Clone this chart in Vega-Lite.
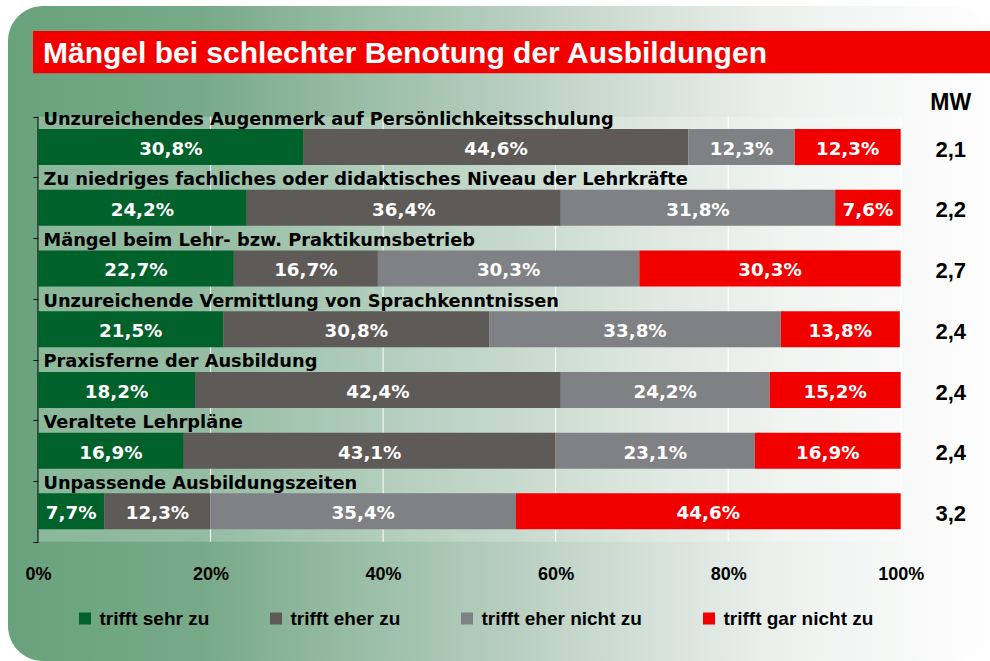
{
  "$schema": "https://vega.github.io/schema/vega-lite/v6.json",
  "width": 982,
  "height": 655,
  "autosize": {"type": "none"},
  "padding": {"left": 8, "top": 6, "right": 0, "bottom": 0},
  "background": "white",
  "datasets": {
    "bars": [
      {"c": "Unzureichendes Augenmerk auf Persönlichkeitsschulung", "i": 1, "k": "trifft sehr zu", "r": 1, "p": 0.308},
      {"c": "Unzureichendes Augenmerk auf Persönlichkeitsschulung", "i": 1, "k": "trifft eher zu", "r": 2, "p": 0.446},
      {"c": "Unzureichendes Augenmerk auf Persönlichkeitsschulung", "i": 1, "k": "trifft eher nicht zu", "r": 3, "p": 0.123},
      {"c": "Unzureichendes Augenmerk auf Persönlichkeitsschulung", "i": 1, "k": "trifft gar nicht zu", "r": 4, "p": 0.123},
      {"c": "Zu niedriges fachliches oder didaktisches Niveau der Lehrkräfte", "i": 2, "k": "trifft sehr zu", "r": 1, "p": 0.242},
      {"c": "Zu niedriges fachliches oder didaktisches Niveau der Lehrkräfte", "i": 2, "k": "trifft eher zu", "r": 2, "p": 0.364},
      {"c": "Zu niedriges fachliches oder didaktisches Niveau der Lehrkräfte", "i": 2, "k": "trifft eher nicht zu", "r": 3, "p": 0.318},
      {"c": "Zu niedriges fachliches oder didaktisches Niveau der Lehrkräfte", "i": 2, "k": "trifft gar nicht zu", "r": 4, "p": 0.076},
      {"c": "Mängel beim Lehr- bzw. Praktikumsbetrieb", "i": 3, "k": "trifft sehr zu", "r": 1, "p": 0.227},
      {"c": "Mängel beim Lehr- bzw. Praktikumsbetrieb", "i": 3, "k": "trifft eher zu", "r": 2, "p": 0.167},
      {"c": "Mängel beim Lehr- bzw. Praktikumsbetrieb", "i": 3, "k": "trifft eher nicht zu", "r": 3, "p": 0.303},
      {"c": "Mängel beim Lehr- bzw. Praktikumsbetrieb", "i": 3, "k": "trifft gar nicht zu", "r": 4, "p": 0.303},
      {"c": "Unzureichende Vermittlung von Sprachkenntnissen", "i": 4, "k": "trifft sehr zu", "r": 1, "p": 0.215},
      {"c": "Unzureichende Vermittlung von Sprachkenntnissen", "i": 4, "k": "trifft eher zu", "r": 2, "p": 0.308},
      {"c": "Unzureichende Vermittlung von Sprachkenntnissen", "i": 4, "k": "trifft eher nicht zu", "r": 3, "p": 0.338},
      {"c": "Unzureichende Vermittlung von Sprachkenntnissen", "i": 4, "k": "trifft gar nicht zu", "r": 4, "p": 0.138},
      {"c": "Praxisferne der Ausbildung", "i": 5, "k": "trifft sehr zu", "r": 1, "p": 0.182},
      {"c": "Praxisferne der Ausbildung", "i": 5, "k": "trifft eher zu", "r": 2, "p": 0.424},
      {"c": "Praxisferne der Ausbildung", "i": 5, "k": "trifft eher nicht zu", "r": 3, "p": 0.242},
      {"c": "Praxisferne der Ausbildung", "i": 5, "k": "trifft gar nicht zu", "r": 4, "p": 0.152},
      {"c": "Veraltete Lehrpläne", "i": 6, "k": "trifft sehr zu", "r": 1, "p": 0.169},
      {"c": "Veraltete Lehrpläne", "i": 6, "k": "trifft eher zu", "r": 2, "p": 0.431},
      {"c": "Veraltete Lehrpläne", "i": 6, "k": "trifft eher nicht zu", "r": 3, "p": 0.231},
      {"c": "Veraltete Lehrpläne", "i": 6, "k": "trifft gar nicht zu", "r": 4, "p": 0.169},
      {"c": "Unpassende Ausbildungszeiten", "i": 7, "k": "trifft sehr zu", "r": 1, "p": 0.077},
      {"c": "Unpassende Ausbildungszeiten", "i": 7, "k": "trifft eher zu", "r": 2, "p": 0.123},
      {"c": "Unpassende Ausbildungszeiten", "i": 7, "k": "trifft eher nicht zu", "r": 3, "p": 0.354},
      {"c": "Unpassende Ausbildungszeiten", "i": 7, "k": "trifft gar nicht zu", "r": 4, "p": 0.446}
    ],
    "cats": [
      {"c": "Unzureichendes Augenmerk auf Persönlichkeitsschulung", "i": 1, "mw": 2.1},
      {"c": "Zu niedriges fachliches oder didaktisches Niveau der Lehrkräfte", "i": 2, "mw": 2.2},
      {"c": "Mängel beim Lehr- bzw. Praktikumsbetrieb", "i": 3, "mw": 2.7},
      {"c": "Unzureichende Vermittlung von Sprachkenntnissen", "i": 4, "mw": 2.4},
      {"c": "Praxisferne der Ausbildung", "i": 5, "mw": 2.4},
      {"c": "Veraltete Lehrpläne", "i": 6, "mw": 2.4},
      {"c": "Unpassende Ausbildungszeiten", "i": 7, "mw": 3.2}
    ],
    "grid": [{"v": 0.2}, {"v": 0.4}, {"v": 0.6}, {"v": 0.8}, {"v": 1}],
    "one": [{}]
  },
  "layer": [
    {
      "data": {"name": "one"},
      "mark": {"type": "rect", "color": "#f20000"},
      "encoding": {
        "x": {"datum": -0.0058, "type": "quantitative", "scale": {"domain": [-0.03477, 1.10351], "nice": false, "zero": false, "padding": 0},
          "axis": {"values": [0, 0.2, 0.4, 0.6, 0.8, 1], "format": ".0%", "title": null, "grid": false, "domain": false, "ticks": false, "tickSize": 0, "labelPadding": 0, "labelBaseline": "alphabetic", "offset": -82, "labelFont": "Liberation Sans", "labelFontWeight": "bold", "labelFontSize": 18, "labelColor": "#000000", "labelFlush": false, "labelOverlap": false}},
        "x2": {"datum": 1.10351},
        "y": {"datum": -0.9115, "type": "quantitative", "scale": {"domain": [-1.3233, 9.465], "reverse": true, "nice": false, "zero": false, "padding": 0},
          "axis": {"values": [0.5, 1.5, 2.5, 3.5, 4.5, 5.5, 6.5, 7.5], "labels": false, "domain": false, "grid": false, "ticks": true, "tickSize": 5, "tickColor": "#000000", "tickWidth": 1, "title": null, "offset": -30}},
        "y2": {"datum": -0.2148}
      }
    },
    {
      "data": {"name": "one"},
      "mark": {"type": "text", "align": "left", "baseline": "alphabetic", "font": "Liberation Sans", "fontWeight": "bold", "fontSize": 30, "color": "white", "dx": 5},
      "encoding": {
        "x": {"datum": 0, "type": "quantitative", "scale": {"domain": [-0.03477, 1.10351], "nice": false, "zero": false, "padding": 0},
          "axis": {"values": [0, 0.2, 0.4, 0.6, 0.8, 1], "format": ".0%", "title": null, "grid": false, "domain": false, "ticks": false, "tickSize": 0, "labelPadding": 0, "labelBaseline": "alphabetic", "offset": -82, "labelFont": "Liberation Sans", "labelFontWeight": "bold", "labelFontSize": 18, "labelColor": "#000000", "labelFlush": false, "labelOverlap": false}},
        "y": {"datum": -0.3795, "type": "quantitative", "scale": {"domain": [-1.3233, 9.465], "reverse": true, "nice": false, "zero": false, "padding": 0},
          "axis": {"values": [0.5, 1.5, 2.5, 3.5, 4.5, 5.5, 6.5, 7.5], "labels": false, "domain": false, "grid": false, "ticks": true, "tickSize": 5, "tickColor": "#000000", "tickWidth": 1, "title": null, "offset": -30}},
        "text": {"value": "Mängel bei schlechter Benotung der Ausbildungen"}
      }
    },
    {
      "data": {"name": "one"},
      "mark": {"type": "rect", "color": "white", "opacity": 0.22},
      "encoding": {
        "x": {"datum": 0, "type": "quantitative", "scale": {"domain": [-0.03477, 1.10351], "nice": false, "zero": false, "padding": 0},
          "axis": {"values": [0, 0.2, 0.4, 0.6, 0.8, 1], "format": ".0%", "title": null, "grid": false, "domain": false, "ticks": false, "tickSize": 0, "labelPadding": 0, "labelBaseline": "alphabetic", "offset": -82, "labelFont": "Liberation Sans", "labelFontWeight": "bold", "labelFontSize": 18, "labelColor": "#000000", "labelFlush": false, "labelOverlap": false}},
        "x2": {"datum": 1},
        "y": {"datum": 0.5, "type": "quantitative", "scale": {"domain": [-1.3233, 9.465], "reverse": true, "nice": false, "zero": false, "padding": 0},
          "axis": {"values": [0.5, 1.5, 2.5, 3.5, 4.5, 5.5, 6.5, 7.5], "labels": false, "domain": false, "grid": false, "ticks": true, "tickSize": 5, "tickColor": "#000000", "tickWidth": 1, "title": null, "offset": -30}},
        "y2": {"datum": 7.5}
      }
    },
    {
      "data": {"name": "grid"},
      "mark": {"type": "rule", "color": "white", "strokeWidth": 1},
      "encoding": {
        "x": {"field": "v", "type": "quantitative", "scale": {"domain": [-0.03477, 1.10351], "nice": false, "zero": false, "padding": 0},
          "axis": {"values": [0, 0.2, 0.4, 0.6, 0.8, 1], "format": ".0%", "title": null, "grid": false, "domain": false, "ticks": false, "tickSize": 0, "labelPadding": 0, "labelBaseline": "alphabetic", "offset": -82, "labelFont": "Liberation Sans", "labelFontWeight": "bold", "labelFontSize": 18, "labelColor": "#000000", "labelFlush": false, "labelOverlap": false}},
        "y": {"datum": 0.5, "type": "quantitative", "scale": {"domain": [-1.3233, 9.465], "reverse": true, "nice": false, "zero": false, "padding": 0},
          "axis": {"values": [0.5, 1.5, 2.5, 3.5, 4.5, 5.5, 6.5, 7.5], "labels": false, "domain": false, "grid": false, "ticks": true, "tickSize": 5, "tickColor": "#000000", "tickWidth": 1, "title": null, "offset": -30}},
        "y2": {"datum": 7.5}
      }
    },
    {
      "data": {"name": "one"},
      "mark": {"type": "rule", "color": "#000000", "strokeWidth": 1},
      "encoding": {
        "x": {"datum": 0, "type": "quantitative", "scale": {"domain": [-0.03477, 1.10351], "nice": false, "zero": false, "padding": 0},
          "axis": {"values": [0, 0.2, 0.4, 0.6, 0.8, 1], "format": ".0%", "title": null, "grid": false, "domain": false, "ticks": false, "tickSize": 0, "labelPadding": 0, "labelBaseline": "alphabetic", "offset": -82, "labelFont": "Liberation Sans", "labelFontWeight": "bold", "labelFontSize": 18, "labelColor": "#000000", "labelFlush": false, "labelOverlap": false}},
        "y": {"datum": 0.5, "type": "quantitative", "scale": {"domain": [-1.3233, 9.465], "reverse": true, "nice": false, "zero": false, "padding": 0},
          "axis": {"values": [0.5, 1.5, 2.5, 3.5, 4.5, 5.5, 6.5, 7.5], "labels": false, "domain": false, "grid": false, "ticks": true, "tickSize": 5, "tickColor": "#000000", "tickWidth": 1, "title": null, "offset": -30}},
        "y2": {"datum": 7.5}
      }
    },
    {
      "data": {"name": "bars"},
      "mark": {"type": "bar", "size": 36, "orient": "horizontal"},
      "encoding": {
        "x": {
          "field": "p", "type": "quantitative", "stack": "zero",
          "scale": {"domain": [-0.03477, 1.10351], "nice": false, "zero": false, "padding": 0},
          "axis": {"values": [0, 0.2, 0.4, 0.6, 0.8, 1], "format": ".0%", "title": null, "grid": false, "domain": false, "ticks": false, "tickSize": 0, "labelPadding": 0, "labelBaseline": "alphabetic", "offset": -82, "labelFont": "Liberation Sans", "labelFontWeight": "bold", "labelFontSize": 18, "labelColor": "#000000", "labelFlush": false, "labelOverlap": false}
        },
        "y": {
          "field": "i", "type": "quantitative",
          "scale": {"domain": [-1.3233, 9.465], "reverse": true, "nice": false, "zero": false, "padding": 0},
          "axis": {"values": [0.5, 1.5, 2.5, 3.5, 4.5, 5.5, 6.5, 7.5], "labels": false, "domain": false, "grid": false, "ticks": true, "tickSize": 5, "tickColor": "#000000", "tickWidth": 1, "title": null, "offset": -30}
        },
        "color": {
          "field": "k", "type": "nominal",
          "scale": {"domain": ["trifft sehr zu", "trifft eher zu", "trifft eher nicht zu", "trifft gar nicht zu"], "range": ["#00612b", "#5e5a58", "#7f8184", "#f20000"]},
          "legend": {"orient": "none", "legendX": 67.5, "legendY": 603, "direction": "horizontal", "columns": 4, "title": null, "symbolType": "square", "symbolSize": 144, "symbolStrokeWidth": 0, "labelFont": "Liberation Sans", "labelFontWeight": "bold", "labelFontSize": 19, "labelColor": "#000000", "labelLimit": 400, "labelOffset": 5, "columnPadding": 57, "gridAlign": "none", "padding": 0}
        },
        "order": {"field": "r", "type": "quantitative"}
      }
    },
    {
      "data": {"name": "bars"},
      "mark": {"type": "text", "align": "center", "baseline": "alphabetic", "font": "DejaVu Sans", "fontWeight": "bold", "fontSize": 18.3, "color": "white", "dy": 8},
      "encoding": {
        "x": {"field": "p", "type": "quantitative", "stack": "zero", "bandPosition": 0.5, "scale": {"domain": [-0.03477, 1.10351], "nice": false, "zero": false, "padding": 0},
          "axis": {"values": [0, 0.2, 0.4, 0.6, 0.8, 1], "format": ".0%", "title": null, "grid": false, "domain": false, "ticks": false, "tickSize": 0, "labelPadding": 0, "labelBaseline": "alphabetic", "offset": -82, "labelFont": "Liberation Sans", "labelFontWeight": "bold", "labelFontSize": 18, "labelColor": "#000000", "labelFlush": false, "labelOverlap": false}},
        "y": {"field": "i", "type": "quantitative", "scale": {"domain": [-1.3233, 9.465], "reverse": true, "nice": false, "zero": false, "padding": 0},
          "axis": {"values": [0.5, 1.5, 2.5, 3.5, 4.5, 5.5, 6.5, 7.5], "labels": false, "domain": false, "grid": false, "ticks": true, "tickSize": 5, "tickColor": "#000000", "tickWidth": 1, "title": null, "offset": -30}},
        "detail": {"field": "k", "type": "nominal"},
        "order": {"field": "r", "type": "quantitative"},
        "text": {"field": "p", "type": "quantitative", "format": ".1%"}
      }
    },
    {
      "data": {"name": "cats"},
      "mark": {"type": "text", "align": "left", "baseline": "alphabetic", "font": "DejaVu Sans", "fontWeight": "bold", "fontSize": 17.8, "color": "#000000", "dx": 5.5, "dy": -22.5},
      "encoding": {
        "x": {"datum": 0, "type": "quantitative", "scale": {"domain": [-0.03477, 1.10351], "nice": false, "zero": false, "padding": 0},
          "axis": {"values": [0, 0.2, 0.4, 0.6, 0.8, 1], "format": ".0%", "title": null, "grid": false, "domain": false, "ticks": false, "tickSize": 0, "labelPadding": 0, "labelBaseline": "alphabetic", "offset": -82, "labelFont": "Liberation Sans", "labelFontWeight": "bold", "labelFontSize": 18, "labelColor": "#000000", "labelFlush": false, "labelOverlap": false}},
        "y": {"field": "i", "type": "quantitative", "scale": {"domain": [-1.3233, 9.465], "reverse": true, "nice": false, "zero": false, "padding": 0},
          "axis": {"values": [0.5, 1.5, 2.5, 3.5, 4.5, 5.5, 6.5, 7.5], "labels": false, "domain": false, "grid": false, "ticks": true, "tickSize": 5, "tickColor": "#000000", "tickWidth": 1, "title": null, "offset": -30}},
        "text": {"field": "c", "type": "nominal"}
      }
    },
    {
      "data": {"name": "one"},
      "mark": {"type": "text", "align": "center", "baseline": "alphabetic", "font": "Liberation Sans", "fontWeight": "bold", "fontSize": 23, "color": "#000000"},
      "encoding": {
        "x": {"datum": 1.058, "type": "quantitative", "scale": {"domain": [-0.03477, 1.10351], "nice": false, "zero": false, "padding": 0},
          "axis": {"values": [0, 0.2, 0.4, 0.6, 0.8, 1], "format": ".0%", "title": null, "grid": false, "domain": false, "ticks": false, "tickSize": 0, "labelPadding": 0, "labelBaseline": "alphabetic", "offset": -82, "labelFont": "Liberation Sans", "labelFontWeight": "bold", "labelFontSize": 18, "labelColor": "#000000", "labelFlush": false, "labelOverlap": false}},
        "y": {"datum": 0.3896, "type": "quantitative", "scale": {"domain": [-1.3233, 9.465], "reverse": true, "nice": false, "zero": false, "padding": 0},
          "axis": {"values": [0.5, 1.5, 2.5, 3.5, 4.5, 5.5, 6.5, 7.5], "labels": false, "domain": false, "grid": false, "ticks": true, "tickSize": 5, "tickColor": "#000000", "tickWidth": 1, "title": null, "offset": -30}},
        "text": {"value": "MW"}
      }
    },
    {
      "data": {"name": "cats"},
      "mark": {"type": "text", "align": "center", "baseline": "alphabetic", "font": "Liberation Sans", "fontWeight": "bold", "fontSize": 22, "color": "#000000", "dy": 9.6},
      "encoding": {
        "x": {"datum": 1.058, "type": "quantitative", "scale": {"domain": [-0.03477, 1.10351], "nice": false, "zero": false, "padding": 0},
          "axis": {"values": [0, 0.2, 0.4, 0.6, 0.8, 1], "format": ".0%", "title": null, "grid": false, "domain": false, "ticks": false, "tickSize": 0, "labelPadding": 0, "labelBaseline": "alphabetic", "offset": -82, "labelFont": "Liberation Sans", "labelFontWeight": "bold", "labelFontSize": 18, "labelColor": "#000000", "labelFlush": false, "labelOverlap": false}},
        "y": {"field": "i", "type": "quantitative", "scale": {"domain": [-1.3233, 9.465], "reverse": true, "nice": false, "zero": false, "padding": 0},
          "axis": {"values": [0.5, 1.5, 2.5, 3.5, 4.5, 5.5, 6.5, 7.5], "labels": false, "domain": false, "grid": false, "ticks": true, "tickSize": 5, "tickColor": "#000000", "tickWidth": 1, "title": null, "offset": -30}},
        "text": {"field": "mw", "type": "quantitative", "format": ".1f"}
      }
    }
  ],
  "config": {
    "locale": {"number": {"decimal": ",", "thousands": ".", "grouping": [3], "currency": ["", " €"]}},
    "view": {
      "stroke": null,
      "cornerRadius": 35,
      "fill": {
        "gradient": "linear", "x1": 0, "y1": 0, "x2": 1, "y2": 0,
        "stops": [
          {"offset": 0, "color": "#68a27c"},
          {"offset": 0.2, "color": "#78aa89"},
          {"offset": 0.33, "color": "#93baa1"},
          {"offset": 0.5, "color": "#b5cdbd"},
          {"offset": 0.66, "color": "#d6e2da"},
          {"offset": 0.8, "color": "#eef2ef"},
          {"offset": 1, "color": "#fefefe"}
        ]
      }
    }
  }
}
